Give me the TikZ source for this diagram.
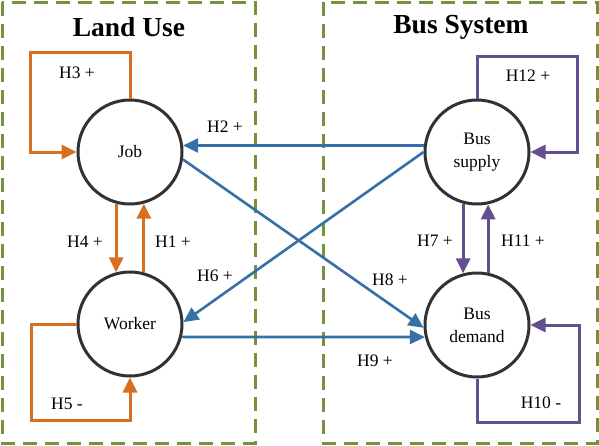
\documentclass[tikz,border=0pt]{standalone}
\usepackage{fontspec}
\setmainfont{Liberation Serif}
\usetikzlibrary{arrows.meta}
\definecolor{lorange}{RGB}{214,112,32}
\definecolor{lblue}{RGB}{54,112,166}
\definecolor{lpurple}{RGB}{100,80,145}
\definecolor{lgreen}{RGB}{118,146,60}
\definecolor{lgray}{RGB}{50,50,50}
\tikzset{
  var/.style={circle,draw=lgray,line width=3pt,minimum size=104pt,inner sep=0pt,align=center,font=\fontsize{17.5}{23}\selectfont},
  grp/.style={draw=lgreen,line width=3pt,dash pattern=on 14pt off 8pt},
  ttl/.style={font=\fontsize{27.5}{30}\selectfont\bfseries},
  lbl/.style={font=\fontsize{17.5}{20}\selectfont,inner sep=0pt},
  tip/.style={-{Triangle[length=15pt,width=14pt]}},
  orr/.style={tip,draw=lorange,line width=3pt,color=lorange},
  blu/.style={tip,draw=lblue,line width=2.6pt,color=lblue},
  pur/.style={tip,draw=lpurple,line width=3pt,color=lpurple},
}
\begin{document}
\begin{tikzpicture}[x=1pt,y=-1pt]
\useasboundingbox (0,0) rectangle (599,445);
\fill[white] (0,0) rectangle (599,445);
\draw[grp] (2,2) rectangle (255,443);
\draw[grp] (323,2) rectangle (597,443);
\node[ttl] (t1) at (129,27) {Land Use};
\node[ttl] (t2) at (461,27) {Bus System};
\node[var] (job) at (130,152) {Job};
\node[var] (worker) at (130,324) {Worker};
\node[var] (bsup) at (477,152) {Bus\\supply};
\node[var] (bdem) at (477,325) {Bus\\demand};
% loops
\draw[orr] (job.north) |- (30,52) |- (job.west);
\draw[orr] (worker.west) -| (31,420) -| (worker.south);
\draw[pur] (bsup.north) |- (577,56) |- (bsup.east);
\draw[pur] (bdem.south) |- (579,422) |- (bdem.east);
% vertical pairs
\draw[orr] (job.-105) -- (worker.105);
\draw[orr] (worker.75) -- (job.-75);
\draw[pur] (bsup.-105) -- (bdem.105);
\draw[pur] (bdem.78) -- (bsup.-78);
% cross links
\draw[blu] (bsup.173) -- (job.7);
\draw[blu] (job.-8) -- (bdem.183);
\draw[blu] (bsup.west) -- (worker.2);
\draw[blu] (worker.-14) -- (bdem.193);
% labels
\node[lbl] (l3) at (77,73) {H3 +};
\node[lbl] (l2) at (225,127) {H2 +};
\node[lbl] (l8) at (390,280) {H8 +};
\node[lbl] (l6) at (215,276) {H6 +};
\node[lbl] (l9) at (375,361) {H9 +};
\node[lbl] (l4) at (85,242) {H4 +};
\node[lbl] (l1) at (173,242) {H1 +};
\node[lbl] (l5) at (67,404) {H5 -};
\node[lbl] (l12) at (528,76) {H12 +};
\node[lbl] (l7) at (435,241) {H7 +};
\node[lbl] (l11) at (523,241) {H11 +};
\node[lbl] (l10) at (541,403) {H10 -};
\end{tikzpicture}
\end{document}
